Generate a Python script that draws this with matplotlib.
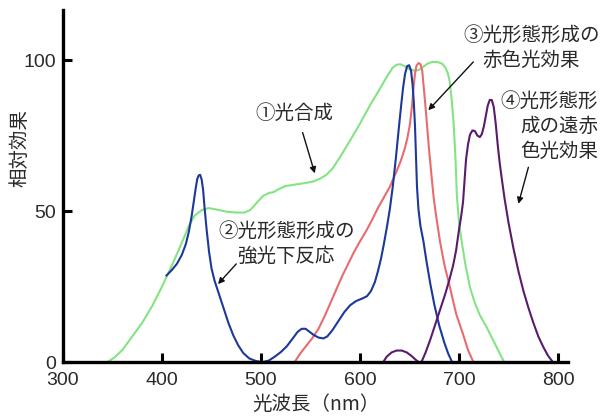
import matplotlib
matplotlib.use("Agg")
import matplotlib.pyplot as plt

plt.rcParams['font.family'] = ['Noto Sans CJK JP', 'DejaVu Sans']

# ① 光合成 (green)
green_x = [345, 352, 360, 370, 380, 390, 400, 410, 420, 427, 433, 440, 447, 455, 465, 475, 483, 489,
           495, 502, 508, 513, 518, 525, 535, 545, 553, 560, 566, 572, 580, 590, 600, 610, 620, 628,
           633, 637, 641, 645, 650, 655, 659, 663, 668, 673, 678, 683, 686, 688.5, 690.5, 692.5,
           694.5, 696.3, 697.8, 700, 702.6, 706, 711, 716, 721, 728, 734, 740, 745]
green_y = [0, 1.5, 4, 8.5, 13, 18.5, 25, 32, 39.5, 45, 48.5, 50.3, 51, 50.5, 49.8, 49.5, 49.5, 50.3,
           52.5, 55, 56, 56.3, 57.3, 58.3, 58.8, 59.3, 59.8, 60.8, 62, 64, 68, 73.4, 79, 85, 90.5, 95,
           97.5, 98.5, 98.6, 98, 97, 96.5, 96.7, 97.6, 98.8, 99.4, 99.4, 98.8, 97.6, 95.8, 93, 87,
           79, 68, 55, 46, 40, 33, 24.7, 19.5, 15.5, 11.4, 7.5, 3.5, 0.3]

# ② 光形態形成の強光下反応 (blue)
blue_x = [404.3, 410, 415, 420, 424, 427, 430, 432, 434, 435.5, 437, 438.5, 440, 441.5, 443, 445,
          447.5, 450, 453, 457, 462, 467, 472, 477, 482, 488, 495, 502, 508, 514, 520, 526, 532,
          537, 541, 545, 549, 553, 558, 563, 567, 572, 578, 584, 590, 596, 602, 607, 611, 615, 618,
          621, 624, 627, 630, 633, 636, 639, 641.5, 643.5, 645.5, 647.5, 649.5, 651.5, 653, 654.3,
          655.5, 656.5, 657.5, 659, 661, 664, 667, 671, 675, 680, 685, 689, 692.5]
blue_y = [28.6, 30.5, 32.5, 35.5, 39, 43, 48.5, 53, 57.5, 60.5, 61.8, 62, 60.5, 57, 51, 44,
          36.5, 31, 27, 23, 18, 13, 8.8, 5.5, 3, 1.2, 0.3, 0, 0.5, 1.8, 3.3, 5.2, 7.8,
          10, 11, 11, 10, 9, 8.1, 7.8, 8.5, 10.5, 13.5, 16.5, 18.8, 20.2, 21, 21.8, 23.5, 26.5, 30,
          34, 39, 44.5, 50.5, 58, 67, 77, 85, 91, 95.5, 98, 98.3, 96.5, 92, 86,
          78, 68, 58, 50.5, 45, 40, 33.5, 25.8, 19, 12, 6.5, 2.8, 0.3]

# ③ 光形態形成の赤色光効果 (red)
red_x = [534, 540, 546, 552, 558, 564, 570, 576, 582, 588, 594, 600, 606, 612, 618, 624, 630, 636,
         641, 645, 648, 650.5, 652.5, 654, 655.5, 657, 659, 661, 662.8, 664.3, 665.7, 667, 669.5,
         672.3, 674.5, 677, 680.7, 685, 690.8, 697, 704, 709, 714]
red_y = [0, 3, 5.5, 8, 11, 15, 19.5, 24, 28.5, 32.5, 36.5, 40, 43.3, 47, 51, 54.5, 58, 62.5,
         66.5, 70.5, 74.5, 79, 85, 91, 95.5, 98.2, 99, 98.7, 96.5, 91, 86, 81, 71,
         61.2, 54, 48, 40, 32.5, 24.7, 16, 9.2, 4, 0.3]

# ④ 光形態形成の遠赤色光効果 (purple)
purple_x = [623.4, 627, 632, 637, 642, 647, 652, 656, 659, 662, 666, 671, 676, 681, 686, 690, 694,
            697, 700, 702, 704, 705.5, 707, 709, 711, 713.5, 716, 718.5, 721, 723, 725, 727, 729,
            731, 733, 735, 737, 739, 741, 743, 746, 750, 755, 760, 765, 770, 775, 780, 785, 790, 794]
purple_y = [0, 1.8, 3.2, 3.8, 3.8, 3.2, 2, 0.8, 0, 0, 3, 7.5, 12.5, 17.5, 22.5, 27, 32,
            37, 44, 48, 53, 60, 67, 72, 75.3, 76.7, 76.5, 75, 74.5, 75.5, 78, 81.5, 85,
            86.8, 86.8, 84.5, 79, 72, 66, 61, 54, 46, 37.5, 30, 23.5, 18, 13, 8.5, 5, 2, 0.3]

x_ticks = [300, 400, 500, 600, 700, 800]
y_ticks = [0, 50, 100]

fig = plt.figure(figsize=(6.04, 4.19), dpi=100)
ax = fig.add_axes([63 / 604, (419 - 362) / 419, (568 - 63) / 604, (362 - 10) / 419])

lw = 1.5
ax.plot(green_x, green_y, color='#84e484', lw=lw, solid_capstyle='round', solid_joinstyle='round')
ax.plot(red_x, red_y, color='#ea6b6e', lw=lw, solid_capstyle='round', solid_joinstyle='round')
ax.plot(blue_x, blue_y, color='#1d3899', lw=lw, solid_capstyle='round', solid_joinstyle='round')
ax.plot(purple_x, purple_y, color='#5a1b6c', lw=lw, solid_capstyle='round', solid_joinstyle='round')

ax.set_xlim(300, 810)
ax.set_ylim(0, 116.6)
for s in ['top', 'right']:
    ax.spines[s].set_visible(False)
for s in ['left', 'bottom']:
    ax.spines[s].set_linewidth(2.4)
    ax.spines[s].set_color('black')

ax.set_xticks(x_ticks)
ax.set_yticks(y_ticks)
ax.tick_params(direction='in', length=6.5, width=2.2, color='black', labelsize=14,
               labelcolor='#2a2a2a')
ax.tick_params(axis='x', pad=7)
ax.tick_params(axis='y', pad=5)
for lab in ax.get_xticklabels() + ax.get_yticklabels():
    lab.set_fontfamily(['Liberation Sans', 'DejaVu Sans'])

ax.set_xlabel('光波長（nm）', fontsize=14, color='#2a2a2a', labelpad=4)
fig.text(20 / 604, 1 - 148 / 419, '相対効果', rotation=90, fontsize=14, color='#2a2a2a',
         ha='center', va='center')

txt = dict(fontsize=14, color='#2a2a2a', ha='center', va='center', linespacing=1.25)
arr = dict(arrowstyle='-|>', color='#111111', lw=1.0, mutation_scale=9, shrinkA=0, shrinkB=0)

ax.text(534, 82.4, '①光合成', **txt)
ax.annotate('', xy=(554.3, 62.5), xytext=(542, 76), arrowprops=arr)

ax.text(525.5, 39, '②光形態形成の\n強光下反応', **txt)
ax.annotate('', xy=(456.5, 25.8), xytext=(475, 32.5), arrowprops=arr)

ax.text(773.2, 104.2, '③光形態形成の\n赤色光効果', **txt)
ax.annotate('', xy=(668.9, 83.4), xytext=(714.4, 99.4), arrowprops=arr)

ax.text(791, 78, '④光形態形\n成の遠赤\n色光効果', multialignment='right', clip_on=False, **txt)
ax.annotate('', xy=(759.9, 52.4), xytext=(770, 64.5), arrowprops=arr)

fig.savefig('out.png', dpi=100)
